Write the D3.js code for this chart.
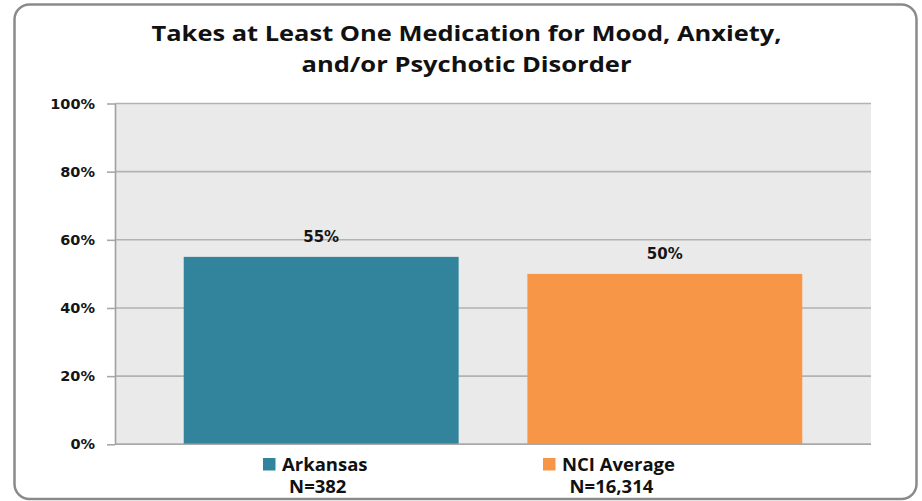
<!DOCTYPE html>
<html>
<head>
<meta charset="utf-8">
<script src="https://cdn.jsdelivr.net/npm/d3@7"></script>
<style>
  html, body { margin: 0; padding: 0; background: #ffffff; }
  svg { display: block; }
</style>
</head>
<body>
<script>
// ---- data ----
const categories = ["Arkansas", "NCI Average"];
const sampleSizes = ["N=382", "N=16,314"];
const values = [55, 50];
const colors = ["#31849B", "#F79646"];
const yTicks = [0, 20, 40, 60, 80, 100];
const titleLines = ["Takes at Least One Medication for Mood, Anxiety,", "and/or Psychotic Disorder"];

// ---- layout ----
const W = 922, H = 501;
const plot = { left: 115, right: 871, top: 103.5, bottom: 444.3 };
const titleCenter = 466.5;
const titleBaselines = [41, 72];
const titleWidths = [630, 330];
const legendX = [263, 543];
const legendY = 458;

const svg = d3.select("body").append("svg")
  .attr("width", W).attr("height", H);

// outer chart frame
svg.append("rect")
  .attr("x", 14.5).attr("y", 4.5)
  .attr("width", 902).attr("height", 494.5)
  .attr("rx", 15).attr("ry", 15)
  .attr("fill", "#ffffff")
  .attr("stroke", "#8a8a8a")
  .attr("stroke-width", 2.5);

// title
svg.append("g").selectAll("text")
  .data(titleLines)
  .join("text")
  .attr("x", titleCenter)
  .attr("y", (d, i) => titleBaselines[i])
  .attr("text-anchor", "middle")
  .attr("textLength", (d, i) => titleWidths[i])
  .attr("lengthAdjust", "spacingAndGlyphs")
  .style("font-family", "'Open Sans', sans-serif")
  .style("font-weight", "700")
  .style("font-size", "22px")
  .style("fill", "#111")
  .text(d => d);

// scales
const x = d3.scaleBand()
  .domain(categories)
  .range([plot.left, plot.right])
  .paddingInner(0.2)
  .paddingOuter(0.2);

const y = d3.scaleLinear()
  .domain([0, 100])
  .range([plot.bottom, plot.top]);

// plot background
svg.append("rect")
  .attr("x", plot.left).attr("y", plot.top)
  .attr("width", plot.right - plot.left)
  .attr("height", plot.bottom - plot.top)
  .attr("fill", "#eaeaea");

// horizontal gridlines
svg.append("g").selectAll("line")
  .data(yTicks)
  .join("line")
  .attr("x1", plot.left).attr("x2", plot.right)
  .attr("y1", d => y(d)).attr("y2", d => y(d))
  .attr("stroke", "#b2b2b2")
  .attr("stroke-width", 1.6);

// bars
svg.append("g").selectAll("rect")
  .data(values)
  .join("rect")
  .attr("x", (d, i) => x(categories[i]))
  .attr("y", d => y(d))
  .attr("width", x.bandwidth())
  .attr("height", d => y(0) - y(d))
  .attr("fill", (d, i) => colors[i]);

// baseline over the bars
svg.append("line")
  .attr("x1", plot.left).attr("x2", plot.right)
  .attr("y1", y(0)).attr("y2", y(0))
  .attr("stroke", "#a8a8a8")
  .attr("stroke-width", 1.6);

// value labels
svg.append("g").selectAll("text")
  .data(values)
  .join("text")
  .attr("x", (d, i) => x(categories[i]) + x.bandwidth() / 2)
  .attr("y", d => y(d) - 14.5)
  .attr("text-anchor", "middle")
  .style("font-family", "'DejaVu Sans', Verdana, sans-serif")
  .style("font-weight", "700")
  .style("font-size", "15px")
  .style("fill", "#151515")
  .text(d => d + "%");

// y axis
const yAxis = d3.axisLeft(y)
  .tickValues(yTicks)
  .tickFormat(d => d + "%")
  .tickSizeInner(8)
  .tickSizeOuter(0)
  .tickPadding(12);

const gy = svg.append("g")
  .attr("transform", `translate(${plot.left},0)`)
  .call(yAxis);

gy.select(".domain")
  .attr("stroke", "#a0a0a0")
  .attr("stroke-width", 1.6);
gy.selectAll(".tick line")
  .attr("stroke", "#a8a8a8")
  .attr("stroke-width", 1.6);
gy.selectAll(".tick text")
  .style("font-family", "'DejaVu Sans', Verdana, sans-serif")
  .style("font-weight", "700")
  .style("font-size", "14.5px")
  .style("fill", "#151515");

// legend
const legend = svg.append("g").selectAll("g")
  .data(categories)
  .join("g")
  .attr("transform", (d, i) => `translate(${legendX[i]},${legendY})`);

legend.append("rect")
  .attr("x", 0).attr("y", 0)
  .attr("width", 12.5).attr("height", 12.5)
  .attr("fill", (d, i) => colors[i]);

const legendFont = sel => sel
  .style("font-family", "'Open Sans', sans-serif")
  .style("font-weight", "700")
  .style("font-size", "18.5px")
  .style("fill", "#111");

const nameText = legend.append("text")
  .attr("x", 19)
  .attr("y", 12.7)
  .call(legendFont)
  .text(d => d);

legend.append("text")
  .attr("x", function (d, i) {
    const w = nameText.nodes()[i].getComputedTextLength();
    return 19 + w / 2 - 7;
  })
  .attr("y", 35.3)
  .attr("text-anchor", "middle")
  .call(legendFont)
  .text((d, i) => sampleSizes[i]);
</script>
</body>
</html>
